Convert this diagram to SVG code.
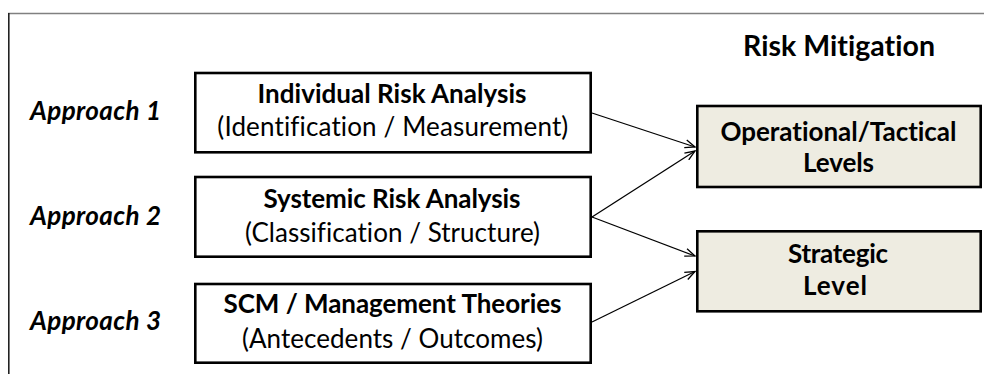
<svg xmlns="http://www.w3.org/2000/svg" width="984" height="374" viewBox="0 0 984 374">
<style>
  .t { font-family: Lato, "Open Sans", "Liberation Sans", sans-serif; fill: #000; font-variant-ligatures: none; }
  .b { font-weight: bold; }
  .bi { font-weight: bold; font-style: italic; }
  .box { fill: #fff; stroke: #000; stroke-width: 2.6; }
  .lvl { fill: #EEECE1; stroke: #000; stroke-width: 2.6; }
  .con { stroke: #000; stroke-width: 1.3; fill: none; marker-end: url(#arr); }
</style>
<defs>
  <marker id="arr" viewBox="0 0 12 10" refX="11" refY="5" markerWidth="12" markerHeight="10" orient="auto" markerUnits="userSpaceOnUse">
    <path d="M1,1 L11,5 L1,9" fill="none" stroke="#000" stroke-width="1.3"/>
  </marker>
</defs>
<rect width="984" height="374" fill="#fff"/>
<g id="frame">
  <line x1="8" y1="13.5" x2="984" y2="13.5" stroke="#808080" stroke-width="1.3"/>
  <line x1="8.8" y1="13" x2="8.8" y2="374" stroke="#222" stroke-width="1.6"/>
</g>
<text id="title" class="t b" x="839" y="55.5" font-size="28.5" text-anchor="middle" textLength="192">Risk Mitigation</text>
<g id="labels">
  <text class="t bi" x="30" y="120" font-size="26" textLength="131">Approach 1</text>
  <text class="t bi" x="30" y="225" font-size="26" textLength="131">Approach 2</text>
  <text class="t bi" x="30" y="330" font-size="26" textLength="131">Approach 3</text>
</g>
<g id="individual">
  <rect class="box" x="195.3" y="73" width="395.4" height="79.3"/>
  <text class="t b" x="392" y="102.5" font-size="26" text-anchor="middle" textLength="269">Individual Risk Analysis</text>
  <text class="t" x="392.8" y="136" font-size="26" text-anchor="middle" textLength="351">(Identification / Measurement)</text>
</g>
<g id="systemic">
  <rect class="box" x="195.3" y="177" width="395.4" height="79.7"/>
  <text class="t b" x="392" y="208" font-size="26" text-anchor="middle" textLength="257">Systemic Risk Analysis</text>
  <text class="t" x="392.5" y="241.5" font-size="26" text-anchor="middle" textLength="295">(Classification / Structure)</text>
</g>
<g id="scm">
  <rect class="box" x="195.3" y="284" width="395.4" height="78.7"/>
  <text class="t b" x="392.5" y="313" font-size="26" text-anchor="middle" textLength="338">SCM / Management Theories</text>
  <text class="t" x="392.5" y="348" font-size="26" text-anchor="middle" textLength="301">(Antecedents / Outcomes)</text>
</g>
<g id="operational">
  <rect class="lvl" x="697.3" y="106" width="283.4" height="81"/>
  <text class="t b" x="838.5" y="141" font-size="26" text-anchor="middle" textLength="236">Operational/Tactical</text>
  <text class="t b" x="838.5" y="172" font-size="26" text-anchor="middle" textLength="71">Levels</text>
</g>
<g id="strategic">
  <rect class="lvl" x="697.3" y="231.3" width="283.4" height="80"/>
  <text class="t b" x="838" y="263" font-size="26" text-anchor="middle" textLength="100">Strategic</text>
  <text class="t b" x="835" y="295" font-size="26" text-anchor="middle" textLength="64">Level</text>
</g>
<g id="connectors">
  <line class="con" x1="592" y1="113" x2="695" y2="147"/>
  <line class="con" x1="592" y1="217" x2="695" y2="151"/>
  <line class="con" x1="592" y1="217" x2="695" y2="256"/>
  <line class="con" x1="592" y1="322" x2="695" y2="271.5"/>
</g>
</svg>
